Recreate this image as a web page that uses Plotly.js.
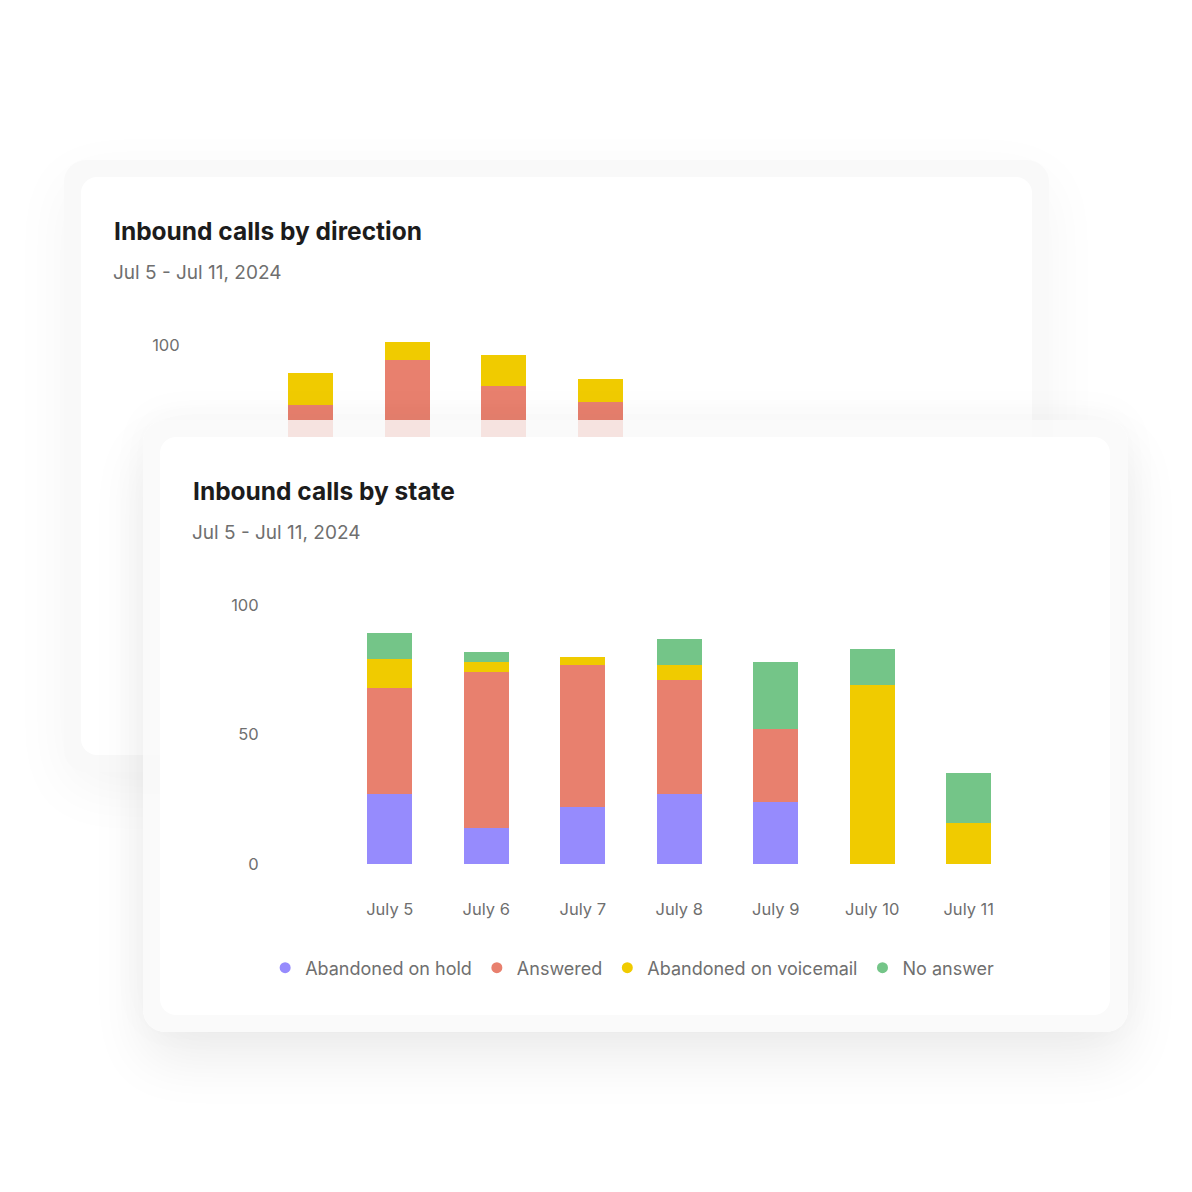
<!DOCTYPE html>
<html><head><meta charset="utf-8">
<script src="https://cdn.plot.ly/plotly-3.0.1.min.js"></script>
<style>
html,body{margin:0;padding:0;background:#fff;width:1192px;height:1192px;overflow:hidden;font-family:Inter,sans-serif}
.abs{position:absolute;box-sizing:border-box}
#backOuter{left:64px;top:160px;width:985px;height:612px;border-radius:22px;background:#f9f9f9;box-shadow:0 18px 60px rgba(0,0,0,0.045);z-index:1}
#backInner{left:81px;top:177px;width:951px;height:578px;border-radius:16px;background:#fff;z-index:2}
#backChart{left:81px;top:177px;width:951px;height:578px;z-index:3}
#frontOuter{left:143px;top:420px;width:985px;height:612px;border-radius:22px;background:rgba(249,249,249,0.82);box-shadow:0 28px 55px rgba(0,0,0,0.075),0 -6px 40px rgba(0,0,0,0.03);z-index:4}
#frontInner{left:160px;top:437px;width:950px;height:578px;border-radius:16px;background:#fff;z-index:5}
#frontChart{left:160px;top:437px;width:950px;height:578px;z-index:6}
</style></head>
<body>
<div id="backOuter" class="abs"></div>
<div id="backInner" class="abs"></div>
<div id="backChart" class="abs"></div>
<div id="frontOuter" class="abs"></div>
<div id="frontInner" class="abs"></div>
<div id="frontChart" class="abs"></div>
<script>
// ---- data ----
const DAYS = ['July 5', 'July 6', 'July 7', 'July 8', 'July 9', 'July 10', 'July 11'];
const Y_TICKS = [0, 50, 100];

// Inbound calls by state (front card)
const ABANDONED_ON_HOLD = [27, 14, 22, 27, 24, 0, 0];
const ANSWERED = [41, 60, 55, 44, 28, 0, 0];
const ABANDONED_ON_VOICEMAIL = [11, 4, 3, 6, 0, 69, 16];
const NO_ANSWER = [10, 4, 0, 10, 26, 14, 19];

// Inbound calls by direction (back card, partly hidden)
const DIRECTION_DAYS = ['July 5', 'July 6', 'July 7', 'July 8'];
const DIRECTION_RED = [77, 94, 84, 78];
const DIRECTION_YELLOW = [12, 7, 12, 9];

const TITLE_STATE = 'Inbound calls by state';
const TITLE_DIRECTION = 'Inbound calls by direction';
const SUBTITLE = 'Jul 5 - Jul 11, 2024';

// ---- styles ----
const C_PURPLE = '#968BFD', C_RED = '#E8806E', C_YELLOW = '#F0CB00', C_GREEN = '#74C588';
const FONT = 'Inter, "Open Sans", sans-serif';
const GREY = '#6f6f6f';

function layoutFor(title, w, h, withLegend) {
  const l = 113, r = w - 857, t = 142, b = h - 427;
  const pw = w - l - r, ph = h - t - b;
  return {
    width: w, height: h,
    paper_bgcolor: 'rgba(0,0,0,0)', plot_bgcolor: 'rgba(0,0,0,0)',
    margin: {l: l, r: r, t: t, b: b, pad: 0},
    barmode: 'stack', bargap: 0.53,
    font: {family: FONT, color: GREY, size: 16.5},
    title: {text: title, font: {family: FONT, size: 24.5, color: '#1c1c1c', weight: 700},
            xref: 'container', yref: 'container', x: 33 / w, xanchor: 'left',
            y: (h - 54) / h, yanchor: 'middle'},
    annotations: [{text: SUBTITLE, xref: 'paper', yref: 'paper',
                   x: (30 - l) / pw, y: (427 - 96) / ph, xanchor: 'left', yanchor: 'middle',
                   showarrow: false, font: {family: FONT, size: 19, color: GREY}}],
    xaxis: {type: 'category', categoryorder: 'array', categoryarray: DAYS,
            range: [-1.21, 6.5], showgrid: false, zeroline: false, showline: false,
            ticks: 'outside', ticklen: 30, tickcolor: 'rgba(0,0,0,0)',
            tickfont: {family: FONT, size: 16.5, color: GREY}, fixedrange: true},
    yaxis: {range: [0, 110], tickvals: Y_TICKS, showgrid: false, zeroline: false, showline: false,
            ticks: 'outside', ticklen: 10, tickcolor: 'rgba(0,0,0,0)',
            tickfont: {family: FONT, size: 16.5, color: GREY}, fixedrange: true},
    showlegend: withLegend,
    legend: {orientation: 'h', xref: 'container', yref: 'container',
             x: 0.497, xanchor: 'center', y: (578 - 531) / 578, yanchor: 'middle',
             font: {family: FONT, size: 18, color: GREY}, itemwidth: 30,
             bgcolor: 'rgba(0,0,0,0)', traceorder: 'normal'}
  };
}

function bar(x, y, name, color) {
  return {type: 'bar', x: x, y: y, name: name, marker: {color: color, line: {width: 0}},
          showlegend: false, legendgroup: name, hoverinfo: 'skip'};
}
function legendItem(name, color) {
  return {type: 'scatter', mode: 'markers', x: [null], y: [null], name: name, legendgroup: name,
          marker: {color: color, size: 11, symbol: 'circle'}, showlegend: true, hoverinfo: 'skip'};
}

const cfg = {staticPlot: true, displayModeBar: false};

Plotly.newPlot('backChart', [
  bar(DIRECTION_DAYS, DIRECTION_RED, 'Inbound answered', C_RED),
  bar(DIRECTION_DAYS, DIRECTION_YELLOW, 'Inbound voicemail', C_YELLOW)
], layoutFor(TITLE_DIRECTION, 951, 578, false), cfg);

Plotly.newPlot('frontChart', [
  bar(DAYS, ABANDONED_ON_HOLD, 'Abandoned on hold', C_PURPLE),
  bar(DAYS, ANSWERED, 'Answered', C_RED),
  bar(DAYS, ABANDONED_ON_VOICEMAIL, 'Abandoned on voicemail', C_YELLOW),
  bar(DAYS, NO_ANSWER, 'No answer', C_GREEN),
  legendItem('Abandoned on hold', C_PURPLE),
  legendItem('Answered', C_RED),
  legendItem('Abandoned on voicemail', C_YELLOW),
  legendItem('No answer', C_GREEN)
], layoutFor(TITLE_STATE, 950, 578, true), cfg);
</script>
</body></html>
